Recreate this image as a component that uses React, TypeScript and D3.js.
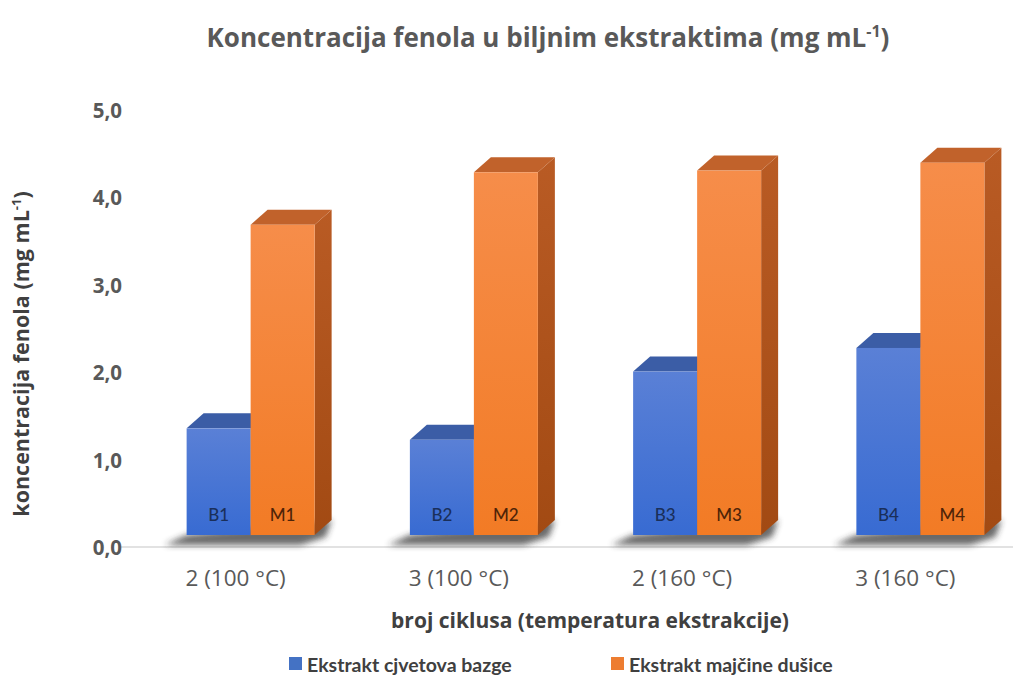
import React, { useRef, useEffect } from 'react';
import * as d3 from 'd3';

// data
const categories = ['2 (100 °C)', '3 (100 °C)', '2 (160 °C)', '3 (160 °C)'];
const seriesKeys = ['bazga', 'dusica'];
const seriesNames = ['Ekstrakt cjvetova bazge', 'Ekstrakt majčine dušice'];
const bazgaValues = [1.22, 1.09, 1.87, 2.14];
const dusicaValues = [3.55, 4.15, 4.17, 4.26];
const bazgaLabels = ['B1', 'B2', 'B3', 'B4'];
const dusicaLabels = ['M1', 'M2', 'M3', 'M4'];
const yTicks = [0, 1, 2, 3, 4, 5];

const W = 1013;
const H = 684;
const FONT = 'Lato, "Open Sans", sans-serif';
const WIDE = '"Open Sans", Lato, sans-serif';

const App: React.FC = () => {
    const ref = useRef<SVGSVGElement>(null);

    useEffect(() => {
        if (!ref.current) return;
        const svg = d3.select(ref.current);
        svg.selectAll('*').remove();

        const y = d3.scaleLinear().domain([0, 5]).range([548, 111]);
        const x = d3.scaleBand().domain(categories).range([124, 1017]);
        const inner = d3.scaleBand().domain(seriesKeys).range([-64, 64]);

        // oblique depth: gap between floor front and bars, and bar depth
        const gapDX = 15, gapDY = 13;
        const barDX = 17, barDY = 15;

        const defs = svg.append('defs');
        const lin = (id: string, stops: [number, string][]) => {
            const g = defs.append('linearGradient').attr('id', id)
                .attr('x1', 0).attr('y1', 0).attr('x2', 0).attr('y2', 1);
            stops.forEach(([o, c]) => g.append('stop').attr('offset', o).attr('stop-color', c));
        };
        lin('blueFront', [[0, '#5a80d6'], [1, '#386bd2']]);
        lin('orangeFront', [[0, '#f68d4a'], [1, '#f27b25']]);
        lin('orangeSide', [[0, '#b95b24'], [1, '#a24a13']]);
        lin('blueSide', [[0, '#34569a'], [1, '#2c4c8c']]);
        defs.append('filter').attr('id', 'blur')
            .attr('x', '-20%').attr('y', '-100%').attr('width', '140%').attr('height', '300%')
            .append('feGaussianBlur').attr('stdDeviation', 3);

        const colors: Record<string, { front: string; top: string; side: string; text: string }> = {
            bazga: { front: 'url(#blueFront)', top: '#3b5da6', side: 'url(#blueSide)', text: '#1a2f5a' },
            dusica: { front: 'url(#orangeFront)', top: '#c1622b', side: 'url(#orangeSide)', text: '#4e2408' },
        };

        const bw = inner.bandwidth();
        const yb = y(0) - gapDY;

        // axis line along the floor front
        svg.append('line')
            .attr('x1', 120).attr('x2', W).attr('y1', y(0) - 1).attr('y2', y(0) - 1)
            .attr('stroke', '#d9d9d9').attr('stroke-width', 1.5);

        // floor shadows
        svg.append('g').selectAll('polygon')
            .data(categories)
            .enter()
            .append('polygon')
            .attr('points', c => {
                const cx = (x(c) as number) + x.bandwidth() / 2 + gapDX;
                const l = cx + (inner('bazga') as number);
                const r = cx + (inner('dusica') as number) + bw;
                return [
                    [l, yb], [r + barDX, yb - barDY], [r + barDX - 6, yb + 2],
                    [r - 14, yb + 10], [l - 22, yb + 10],
                ].map(p => p.join(',')).join(' ');
            })
            .attr('fill', '#2a2a2a')
            .attr('opacity', 0.7)
            .attr('filter', 'url(#blur)');

        const bars = categories.flatMap((c, i) => [
            { c, key: 'bazga', v: bazgaValues[i], label: bazgaLabels[i] },
            { c, key: 'dusica', v: dusicaValues[i], label: dusicaLabels[i] },
        ]);

        const g = svg.append('g')
            .selectAll('g')
            .data(bars)
            .enter()
            .append('g');

        const x0 = (d: any) => (x(d.c) as number) + x.bandwidth() / 2 + (inner(d.key) as number) + gapDX;
        const yt = (d: any) => y(d.v) - gapDY;

        g.append('polygon')
            .attr('points', d => {
                const a = x0(d) + bw, t = yt(d);
                return `${a},${t} ${a + barDX},${t - barDY} ${a + barDX},${yb - barDY} ${a},${yb}`;
            })
            .attr('fill', d => colors[d.key].side);

        g.append('polygon')
            .attr('points', d => {
                const a = x0(d), t = yt(d);
                return `${a},${t} ${a + bw},${t} ${a + bw + barDX},${t - barDY} ${a + barDX},${t - barDY}`;
            })
            .attr('fill', d => colors[d.key].top);

        g.append('rect')
            .attr('x', d => x0(d))
            .attr('y', d => yt(d))
            .attr('width', bw)
            .attr('height', d => yb - yt(d))
            .attr('fill', d => colors[d.key].front);

        g.append('text')
            .attr('x', d => x0(d) + bw / 2)
            .attr('y', yb - 21)
            .attr('text-anchor', 'middle')
            .attr('dominant-baseline', 'central')
            .attr('font-family', FONT)
            .attr('font-size', 17)
            .attr('font-weight', 500)
            .attr('fill', d => colors[d.key].text)
            .text(d => d.label);

        // y axis labels
        const fmt = (v: number) => d3.format('.1f')(v).replace('.', ',');
        const yAxis = svg.append('g')
            .attr('transform', 'translate(122,0)')
            .call(d3.axisLeft(y).tickValues(yTicks).tickSize(0).tickPadding(0).tickFormat(d => fmt(+d)));
        yAxis.select('.domain').remove();
        yAxis.selectAll('text')
            .attr('font-family', WIDE).attr('font-size', 20.5).attr('font-weight', 700)
            .attr('fill', '#595959');

        // x axis labels
        const xAxis = svg.append('g')
            .attr('transform', `translate(0,${y(0)})`)
            .call(d3.axisBottom(x).tickSize(0).tickPadding(22));
        xAxis.select('.domain').remove();
        xAxis.selectAll('text')
            .attr('font-family', WIDE).attr('font-size', 22.5)
            .attr('fill', '#595959');

        // title
        const title = svg.append('text')
            .attr('x', 548).attr('y', 47)
            .attr('text-anchor', 'middle')
            .attr('font-family', WIDE).attr('font-size', 26).attr('font-weight', 700)
            .attr('fill', '#595959');
        title.append('tspan').text('Koncentracija fenola u biljnim ekstraktima (mg mL');
        title.append('tspan').attr('dy', -10).attr('font-size', 16).text('-1');
        title.append('tspan').attr('dy', 10).text(')');

        // y axis title
        const yTitle = svg.append('text')
            .attr('transform', 'translate(29,354) rotate(-90)')
            .attr('text-anchor', 'middle')
            .attr('font-family', WIDE).attr('font-size', 21.5).attr('font-weight', 700)
            .attr('fill', '#404040');
        yTitle.append('tspan').text('koncentracija fenola  (mg mL');
        yTitle.append('tspan').attr('dy', -8).attr('font-size', 13).text('-1');
        yTitle.append('tspan').attr('dy', 8).text(')');

        // x axis title
        svg.append('text')
            .attr('x', 590).attr('y', 628)
            .attr('text-anchor', 'middle')
            .attr('font-family', WIDE).attr('font-size', 21).attr('font-weight', 700)
            .attr('fill', '#404040')
            .text('broj ciklusa (temperatura ekstrakcije)');

        // legend
        const legendX = [289, 611];
        const legendFill = ['#4472c4', '#ed7d31'];
        const lg = svg.append('g').selectAll('g')
            .data(seriesNames)
            .enter()
            .append('g')
            .attr('transform', (_, i) => `translate(${legendX[i]},664)`);
        lg.append('rect')
            .attr('x', 0).attr('y', -7).attr('width', 13).attr('height', 13)
            .attr('fill', (_, i) => legendFill[i]);
        lg.append('text')
            .attr('x', 18).attr('y', 0)
            .attr('dominant-baseline', 'central')
            .attr('font-family', FONT).attr('font-size', 19.5).attr('font-weight', 700)
            .attr('fill', '#404040')
            .text(d => d);
    }, []);

    return (
        <svg
            ref={ref}
            width={W}
            height={H}
            viewBox={`0 0 ${W} ${H}`}
            style={{ position: 'absolute', left: 0, top: 0, background: '#fff' }}
        />
    );
};

export default App;
